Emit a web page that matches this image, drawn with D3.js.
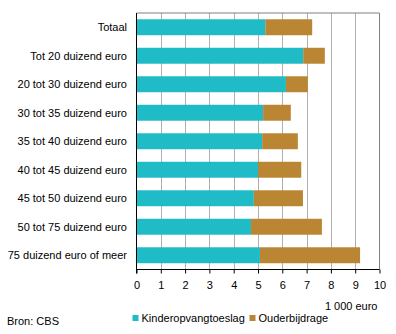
<!DOCTYPE html>
<html>
<head>
<style type="text/css">
    body { margin: 0; background: #fff; }
    text { font-family: Arial, "Liberation Sans", sans-serif; font-size: 11px; fill: #000; }
</style>
</head>
<body>
<div id="chart"></div>
<script src="https://cdnjs.cloudflare.com/ajax/libs/d3/7.8.5/d3.min.js"></script>
<script>
var categories = ["Totaal", "Tot 20 duizend euro", "20 tot 30 duizend euro", "30 tot 35 duizend euro",
    "35 tot 40 duizend euro", "40 tot 45 duizend euro", "45 tot 50 duizend euro",
    "50 tot 75 duizend euro", "75 duizend euro of meer"];
var toeslag = [5.3, 6.86, 6.15, 5.21, 5.17, 5.0, 4.83, 4.71, 5.08];
var bijdrage = [1.93, 0.89, 0.9, 1.14, 1.47, 1.78, 2.02, 2.92, 4.12];
var seriesNames = ["Kinderopvangtoeslag", "Ouderbijdrage"];
var xTicks = [0, 1, 2, 3, 4, 5, 6, 7, 8, 9, 10];

(function () {
    var colors = ["#1fbbc6", "#bb8633"];
    var width = 396, height = 334;
    var left = 136.5, right = 379.5, plotTop = 13, plotBottom = 269.5;

    var svg = d3.select("#chart").append("svg")
        .attr("width", width).attr("height", height);

    var x = d3.scaleLinear().domain([0, 10]).range([left, right]);
    var y = d3.scaleBand().domain(categories).range([plotTop, plotBottom]).paddingInner(0.44).paddingOuter(0.22);

    // grid
    svg.selectAll("line.grid").data(xTicks.slice(1, -1)).enter().append("line")
        .attr("x1", function (d) { return Math.round(x(d)) + 0.5; })
        .attr("x2", function (d) { return Math.round(x(d)) + 0.5; })
        .attr("y1", plotTop).attr("y2", plotBottom)
        .attr("stroke", "#b0b0b0");

    // frame top + right
    svg.append("path")
        .attr("d", "M" + left + "," + plotTop + "H" + right + "V" + plotBottom)
        .attr("fill", "none").attr("stroke", "#808080");

    var stacked = categories.map(function (c, i) {
        return { cat: c, parts: [[0, toeslag[i]], [toeslag[i], toeslag[i] + bijdrage[i]]] };
    });

    var rows = svg.selectAll("g.row").data(stacked).enter().append("g");
    rows.selectAll("rect").data(function (d) { return d.parts.map(function (p, k) { return { cat: d.cat, p: p, k: k }; }); })
        .enter().append("rect")
        .attr("x", function (d) { return x(d.p[0]); })
        .attr("width", function (d) { return x(d.p[1]) - x(d.p[0]); })
        .attr("y", function (d) { return y(d.cat); })
        .attr("height", y.bandwidth())
        .attr("fill", function (d) { return colors[d.k]; });

    // category labels
    svg.selectAll("text.cat").data(categories).enter().append("text")
        .attr("x", 127).attr("y", function (d) { return y(d) + y.bandwidth() / 2; })
        .attr("dy", "0.35em").attr("text-anchor", "end")
        .text(function (d) { return d; });

    // left axis line
    svg.append("line").attr("x1", left).attr("x2", left).attr("y1", plotTop).attr("y2", plotBottom + 4)
        .attr("stroke", "#000");

    // x axis
    var xAxis = svg.append("g").attr("transform", "translate(0," + plotBottom + ")")
        .call(d3.axisBottom(x).tickValues(xTicks).tickSize(4).tickPadding(8).tickFormat(d3.format("d")));
    xAxis.select(".domain").attr("stroke", "#000").attr("d", "M" + left + ",0H" + right);
    xAxis.selectAll(".tick line").attr("stroke", "#000");
    xAxis.selectAll("text").attr("font-size", "11px").attr("font-family", "Arial, 'Liberation Sans', sans-serif");

    svg.append("text").attr("x", 377.5).attr("y", 306).attr("dy", "0.35em")
        .attr("text-anchor", "end").text("1 000 euro");

    // legend
    var legendX = [132.5, 249.5];
    var lg = svg.selectAll("g.legend").data(seriesNames).enter().append("g");
    lg.append("rect").attr("x", function (d, i) { return legendX[i]; }).attr("y", 315)
        .attr("width", 6).attr("height", 6)
        .attr("fill", function (d, i) { return colors[i]; });
    lg.append("text").attr("x", function (d, i) { return legendX[i] + 9; }).attr("y", 318)
        .attr("dy", "0.35em").text(function (d) { return d; });

    svg.append("text").attr("x", 7).attr("y", 321).attr("dy", "0.35em").text("Bron: CBS");
})();
</script>
</body>
</html>
